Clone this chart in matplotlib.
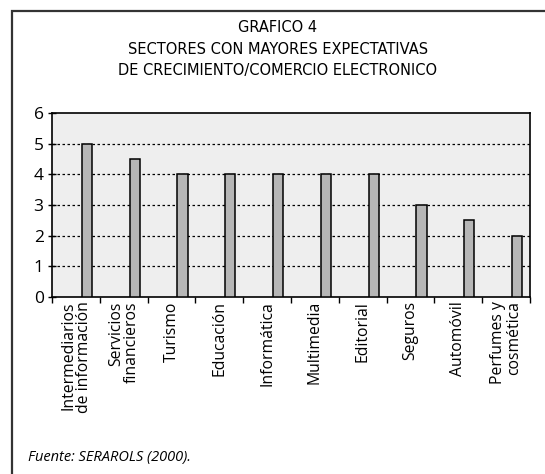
import matplotlib
matplotlib.use("Agg")
import matplotlib.pyplot as plt
from matplotlib.patches import Rectangle
import numpy as np

categories = ["Intermediarios\nde información", "Servicios\nfinancieros", "Turismo",
              "Educación", "Informática", "Multimedia", "Editorial", "Seguros",
              "Automóvil", "Perfumes y\ncosmética"]
values = [5, 4.5, 4, 4, 4, 4, 4, 3, 2.5, 2]
yticks = [0, 1, 2, 3, 4, 5, 6]
title_lines = ["GRAFICO 4", "SECTORES CON MAYORES EXPECTATIVAS",
               "DE CRECIMIENTO/COMERCIO ELECTRONICO"]
source = "Fuente: SERAROLS (2000)."

W, H = 545, 474
fig = plt.figure(figsize=(W / 100, H / 100), dpi=100)
fig.patch.set_facecolor("white")

# outer frame
fig.add_artist(Rectangle((11.5 / W, -0.05), 1.2, 1 - 11.5 / H + 0.05,
                         transform=fig.transFigure, fill=False,
                         edgecolor="#333333", linewidth=1.6))

ax = fig.add_axes([52 / W, 1 - 297 / H, (530 - 52) / W, (297 - 113) / H])
ax.set_facecolor("#eeeeee")
x = np.arange(len(categories))
ax.bar(x + 0.23, values, width=0.21, color="#b6b6b6", edgecolor="black",
       linewidth=1.1, zorder=3)
ax.set_xlim(-0.5, len(categories) - 0.5)
ax.set_ylim(0, 6)
ax.set_yticks(yticks)
for v in yticks[1:-1]:
    ax.axhline(v, color="black", linestyle=(0, (2, 2)), linewidth=0.9, zorder=1)

ax.set_xticks(np.arange(len(categories) + 1) - 0.5, minor=False)
ax.set_xticklabels([])
ax.set_xticks(x, minor=True)
ax.set_xticklabels(categories, minor=True, rotation=90, fontsize=11.3,
                   family="Open Sans", linespacing=0.95, va="top", ha="center",
                   multialignment="right")
ax.tick_params(axis="x", which="major", direction="out", length=4, width=1)
ax.tick_params(axis="x", which="minor", length=0, pad=3)
ax.tick_params(axis="y", direction="inout", length=6, width=1, pad=3,
               labelsize=12.5)
for lab in ax.get_yticklabels():
    lab.set_family("Open Sans")
for s in ax.spines.values():
    s.set_linewidth(1.2)
    s.set_color("black")

ys = [28, 49, 70]
for t, yy in zip(title_lines, ys):
    fig.text(278 / W, 1 - yy / H, t, ha="center", va="center", fontsize=10.5,
             family="Liberation Sans Narrow")

fig.text(28 / W, 1 - 458 / H, source, ha="left", va="center", fontsize=10.5,
         style="italic", family="Open Sans")

fig.savefig("out.png", dpi=100)
